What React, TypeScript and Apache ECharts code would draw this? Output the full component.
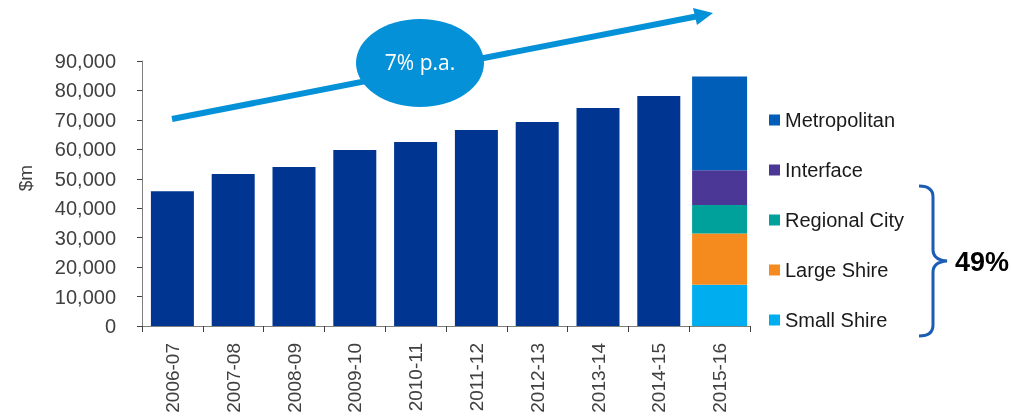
import React, { useEffect, useRef } from "react";
import * as echarts from "echarts";

const categories = ["2006-07", "2007-08", "2008-09", "2009-10", "2010-11", "2011-12", "2012-13", "2013-14", "2014-15", "2015-16"];
const totals = [45800, 51600, 54000, 59800, 62500, 66600, 69300, 74000, 78100, null];
const segmentNames = ["Small Shire", "Large Shire", "Regional City", "Interface", "Metropolitan"];
const segmentValues = [14000, 17400, 9700, 11800, 31800];
const segmentColors = ["#00AEEF", "#F58B1F", "#00A19A", "#4B3896", "#005EB8"];
const legendOrder = ["Metropolitan", "Interface", "Regional City", "Large Shire", "Small Shire"];
const yTicks = { min: 0, max: 90000, interval: 10000 };
const yTitle = "$m";
const growthLabel = "7% p.a.";
const shareLabel = "49%";

const FONT = "'Liberation Sans', Arial, Helvetica, sans-serif";

echarts.graphic.registerShape(
  "brace",
  echarts.graphic.extendPath(
    "M 919 186 Q 933 186 933 197 L 933 250 Q 933 260 947 261 Q 933 262 933 272 L 933 325 Q 933 336 919 336",
    {}
  )
);

export default function App() {
  const ref = useRef<HTMLDivElement>(null);
  useEffect(() => {
    const chart = echarts.init(ref.current!, null, { renderer: "svg" });
    const lastIdx = categories.length - 1;
    const segSeries = segmentNames.map((name, i) => ({
      name,
      type: "bar",
      stack: "seg",
      xAxisIndex: 1,
      barWidth: 55,
      itemStyle: { color: segmentColors[i] },
      data: categories.map((_, k) => (k === lastIdx ? segmentValues[i] : null)),
    }));
    const tick = (v: number) => v.toLocaleString("en-US");
    chart.setOption({
      animation: false,
      textStyle: { fontFamily: FONT },
      grid: { left: 142, right: 261, top: 61, bottom: 92 },
      legend: {
        data: legendOrder,
        orient: "vertical",
        left: 769,
        top: 110,
        padding: 0,
        itemGap: 30,
        itemWidth: 11,
        itemHeight: 11,
        icon: "rect",
        textStyle: { fontSize: 20, color: "#1a1a1a", fontFamily: FONT },
        selectedMode: false,
      },
      xAxis: [
        {
          type: "category",
          data: categories,
          axisLine: { lineStyle: { color: "#7f7f7f" } },
          axisTick: { show: true, length: 6, lineStyle: { color: "#404040" } },
          axisLabel: { rotate: 90, fontSize: 19, color: "#404040", margin: 17, fontFamily: FONT },
        },
        {
          type: "category",
          data: categories,
          show: false,
          position: "bottom",
        },
      ],
      yAxis: {
        type: "value",
        min: yTicks.min,
        max: yTicks.max,
        interval: yTicks.interval,
        axisLine: { show: true, lineStyle: { color: "#7f7f7f" } },
        axisTick: { show: true, length: 5, lineStyle: { color: "#404040" } },
        splitLine: { show: false },
        axisLabel: { fontSize: 20, color: "#404040", margin: 26, formatter: tick, fontFamily: FONT },
      },
      series: [
        {
          name: "Total",
          type: "bar",
          barWidth: 43,
          itemStyle: { color: "#003591" },
          data: totals,
        },
        ...segSeries,
      ],
      graphic: [
        {
          type: "text",
          x: 25,
          y: 178,
          rotation: Math.PI / 2,
          style: {
            text: yTitle,
            fill: "#404040",
            fontSize: 19,
            fontFamily: FONT,
            align: "center",
            verticalAlign: "middle",
          },
        },
        {
          type: "line",
          shape: { x1: 172, y1: 119, x2: 696, y2: 16.5 },
          style: { stroke: "#0591D8", lineWidth: 6 },
        },
        {
          type: "polygon",
          shape: { points: [[713, 13], [697, 25], [693, 8]] },
          style: { fill: "#0591D8" },
        },
        {
          type: "ellipse",
          shape: { cx: 420, cy: 63, rx: 64, ry: 44 },
          style: { fill: "#0591D8" },
        },
        {
          type: "text",
          x: 420,
          y: 62,
          style: {
            text: growthLabel,
            fill: "#ffffff",
            fontSize: 21,
            fontFamily: "'Open Sans', 'Liberation Sans', sans-serif",
            align: "center",
            verticalAlign: "middle",
          },
        },
        {
          type: "brace",
          style: { stroke: "#1B5DB5", lineWidth: 3, fill: null },
        },
        {
          type: "text",
          x: 955,
          y: 262,
          style: {
            text: shareLabel,
            fill: "#000000",
            fontSize: 27,
            fontWeight: "bold",
            fontFamily: FONT,
            align: "left",
            verticalAlign: "middle",
          },
        },
      ],
    });
    return () => chart.dispose();
  }, []);
  return <div ref={ref} style={{ position: "fixed", left: 0, top: 0, width: 1011, height: 418 }} />;
}
